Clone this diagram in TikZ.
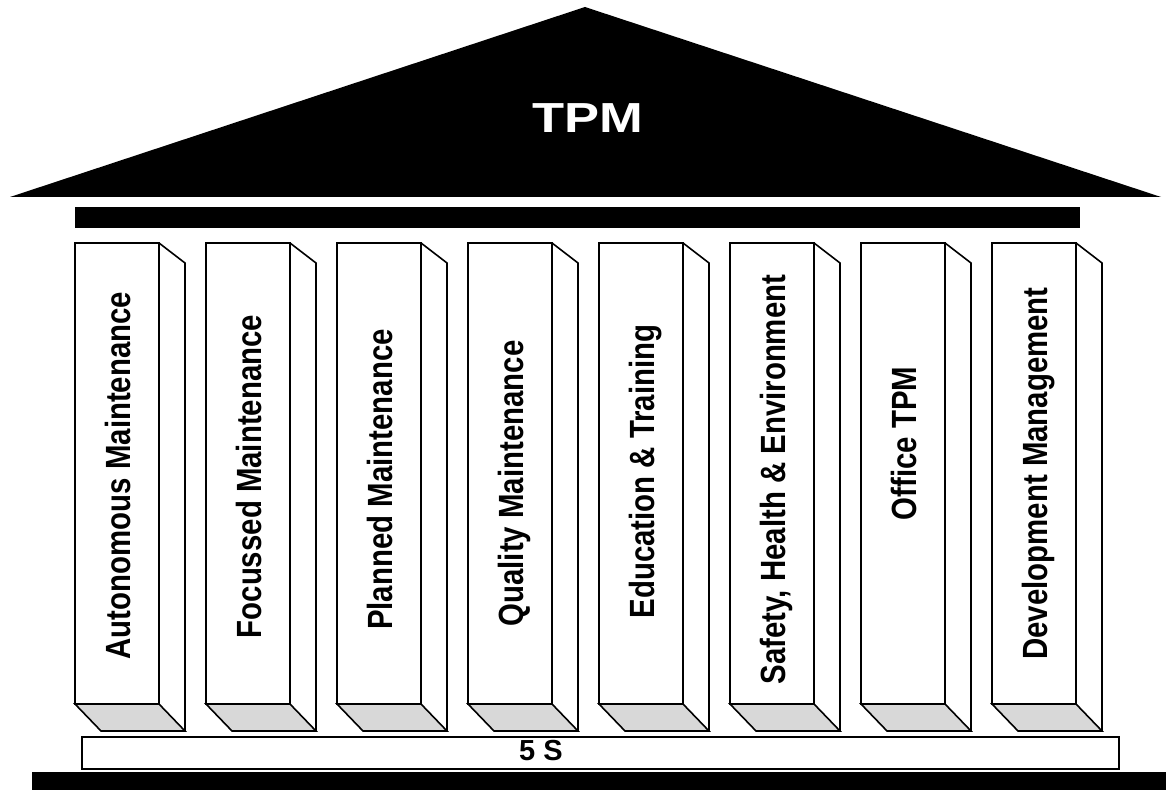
\documentclass[tikz,border=0pt]{standalone}
\usepackage{fontspec}
\setmainfont{Liberation Sans}
\usepackage{tikz}

\begin{document}
\begin{tikzpicture}[x=1pt, y=1pt, line join=miter]
      \tikzstyle{pillar}=[rectangle, draw, line width=1.6pt, fill=white, inner sep=0pt, outer sep=0pt, minimum width=84pt, minimum height=461pt]
      \tikzstyle{pillar text}=[rotate=90, anchor=base, font=\fontsize{35}{40}\selectfont\bfseries, inner sep=0pt]
      \tikzstyle{face}=[draw, line width=1.6pt]
      \definecolor{floorgray}{RGB}{216,216,216}
      \useasboundingbox (0,0) rectangle (1166,790);
      % roof and beam
      \fill (10,593) -- (585,783) -- (1161,593) -- cycle;
      \node[text=white, font=\fontsize{42}{48}\selectfont\bfseries] (tpm) at (588,672) {\scalebox{1.25}[1]{TPM}};
      \fill (75,562) rectangle (1080,583);
      % ground and step
      \fill (32,0) rectangle (1166,18);
      \node[draw, line width=1.6pt, inner sep=0pt, minimum width=1037pt, minimum height=32pt] (base) at (600.5,37) {};
      \node[anchor=base, font=\fontsize{29}{32}\selectfont\bfseries] (five) at (541,30) {5 S};
      % the pillars
      \foreach \lbl/\dy [count=\i] in {Autonomous Maintenance/-2, Focussed Maintenance/-3, Planned Maintenance/-6, Quality Maintenance/-10, Education \& Training/2, {Safety, Health \& Environment}/-6, Office TPM/30, Development Management/0} {
        \node[pillar] (p\i) at (117+131*\i-131, 316.5) {};
        \filldraw[face, fill=floorgray] (p\i.south west) -- (p\i.south east) -- ++(26,-27) -- ++(-84,0) -- cycle;
        \draw[face] (p\i.north east) -- ++(26,-20) -- ++(0,-468);
        \node[pillar text] (t\i) at ([xshift=13.5pt, yshift=\dy pt]p\i.center) {\scalebox{0.84}[1]{\lbl}};
      }
\end{tikzpicture}
\end{document}
